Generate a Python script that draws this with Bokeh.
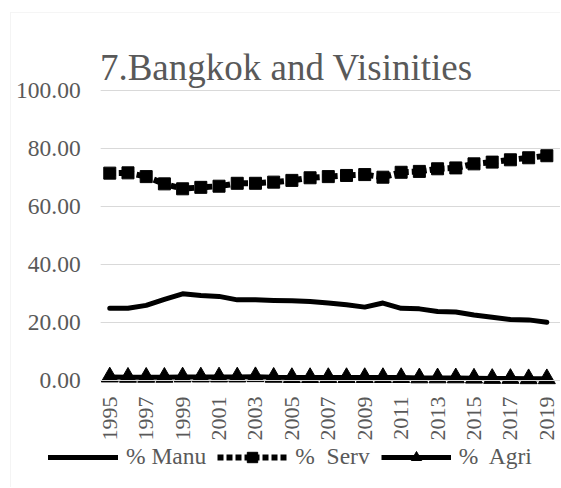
import math
from bokeh.plotting import figure
from bokeh.models import (Range1d, FixedTicker, Legend, LegendItem, NumeralTickFormatter,
                          Label, BoxAnnotation)
from bokeh.embed import file_html
from bokeh.resources import INLINE

years = list(range(1995, 2020))
manu = [24.9, 24.9, 25.9, 28.0, 29.9, 29.3, 29.0, 27.8, 27.8, 27.6, 27.5, 27.2, 26.7, 26.1, 25.3, 26.7,
        24.9, 24.7, 23.8, 23.6, 22.6, 21.8, 21.0, 20.9, 20.1]
serv = [71.5, 71.6, 70.3, 67.8, 66.1, 66.6, 67.0, 68.0, 68.0, 68.4, 69.0, 69.9, 70.3, 70.7, 71.0, 70.1,
        71.8, 72.1, 73.0, 73.3, 74.7, 75.3, 76.1, 76.8, 77.5]
agri = [1.2, 1.1, 1.1, 1.1, 1.2, 1.2, 1.2, 1.2, 1.3, 1.1, 1.0, 1.0, 1.0, 1.0, 1.0, 1.0,
        1.0, 0.9, 0.9, 0.9, 0.8, 0.7, 0.7, 0.6, 0.6]
x_tick_years = list(range(1995, 2020, 2))
y_ticks = [0, 20, 40, 60, 80, 100]
title_text = "7.Bangkok and Visinities"
labels = ["% Manu", "%  Serv", "%  Agri"]

FONT = "Liberation Serif"
GREY = "#595959"
GRID = "#d9d9d9"

# layout geometry (pixels -> data), plot area starts at year 1994.5 / value 0
X0, X1 = 1989.0, 2019.75
Y0, Y1 = -36.9, 131.03
PLOT_LEFT = 1994.5

p = figure(width=560, height=487, output_backend="svg", toolbar_location=None,
           x_range=Range1d(X0, X1), y_range=Range1d(Y0, Y1),
           min_border_left=0, min_border_right=0, min_border_top=0, min_border_bottom=0)
p.outline_line_color = None
p.xgrid.grid_line_color = None
p.ygrid.grid_line_color = None

# chart-area border (left and top visible)
p.add_layout(BoxAnnotation(left=1989.549, top=126.9, right=X1 + 5, bottom=Y0 - 5,
                           fill_alpha=0, line_color=GRID, line_width=1))

# horizontal gridlines across the plot area
p.segment(x0=[PLOT_LEFT] * len(y_ticks), y0=y_ticks, x1=[X1] * len(y_ticks), y1=y_ticks,
          line_color=GRID, line_width=1)

p.xaxis.fixed_location = 0
p.xaxis.bounds = (PLOT_LEFT, X1)
p.xaxis.ticker = FixedTicker(ticks=x_tick_years)
p.xaxis.major_label_orientation = math.pi / 2
p.xaxis.axis_line_color = GRID
p.xaxis.major_tick_line_color = None
p.xaxis.minor_tick_line_color = None
p.xaxis.major_tick_out = 0
p.xaxis.major_label_standoff = 16
p.xaxis.major_label_text_font = FONT
p.xaxis.major_label_text_font_size = "22px"
p.xaxis.major_label_text_color = GREY

p.yaxis.fixed_location = PLOT_LEFT
p.yaxis.ticker = FixedTicker(ticks=y_ticks)
p.yaxis.formatter = NumeralTickFormatter(format="0.00")
p.yaxis.axis_line_color = None
p.yaxis.major_tick_line_color = None
p.yaxis.minor_tick_line_color = None
p.yaxis.major_tick_out = 0
p.yaxis.major_label_standoff = 20
p.yaxis.major_label_text_font = FONT
p.yaxis.major_label_text_font_size = "23.5px"
p.yaxis.major_label_text_color = GREY

p.add_layout(Label(x=1994.46, y=107.9, text=title_text, text_font=FONT, text_font_size="37px",
                   text_color=GREY, text_baseline="alphabetic", text_align="left"))

r_manu = p.line(years, manu, line_width=5, color="black", line_cap="round", line_join="round")
r_serv_l = p.line(years, serv, line_width=6, line_dash="6 3", color="black")
r_serv_m = p.scatter(years, serv, marker="square", size=12, color="black")
r_agri_l = p.line(years, agri, line_width=5, color="black")
r_agri_m = p.scatter(years, agri, marker="triangle", size=17, color="black")

legend = Legend(items=[LegendItem(label=labels[0], renderers=[r_manu]),
                       LegendItem(label=labels[1], renderers=[r_serv_l, r_serv_m]),
                       LegendItem(label=labels[2], renderers=[r_agri_l, r_agri_m])],
                orientation="horizontal", location=(48, 17),
                glyph_width=70, glyph_height=26, label_standoff=8, spacing=11,
                padding=0, margin=0, border_line_color=None, background_fill_alpha=0,
                label_text_font=FONT, label_text_font_size="23.5px", label_text_color=GREY)
p.add_layout(legend, "center")

open("out.html", "w").write(file_html(p, INLINE))
